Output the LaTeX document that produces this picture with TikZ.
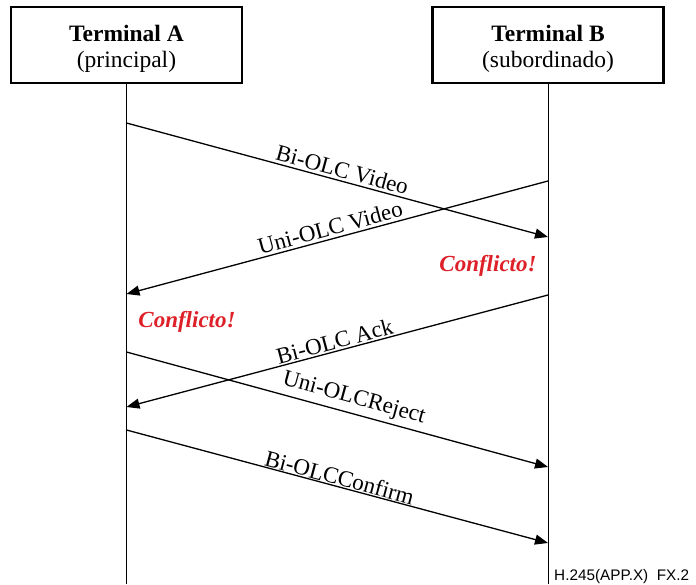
\documentclass[tikz,border=0pt]{standalone}
\usepackage{fontspec}
\setmainfont{Liberation Serif}
\newfontfamily\footsans{Liberation Sans}
\usetikzlibrary{arrows.meta}
\definecolor{conflred}{RGB}{222,32,40}
\tikzset{
  term/.style={draw, line width=2.2pt, minimum width=231pt, minimum height=76pt, inner sep=0pt},
  termtext/.style={inner sep=0pt, font=\fontsize{23.5}{26}\selectfont},
  life/.style={line width=1pt},
  msg/.style={line width=1.3pt, -{Triangle[length=13pt,width=10pt]}},
  rmsg/.style={line width=1.3pt, {Triangle[length=13pt,width=10pt]}-},
  lab/.style={sloped, above, inner sep=2.5pt, font=\fontsize{23}{25}\selectfont},
  confl/.style={text=conflred, font=\fontsize{23}{25}\selectfont\bfseries\itshape, inner sep=0pt},
}
\begin{document}
\begin{tikzpicture}[x=1pt,y=-1pt]
\useasboundingbox (0,0) rectangle (696,585);
\node[term] (A) at (126.5,45) {};
\node[term] (B) at (548,45) {};
\node[termtext] (At) at (126.5,33) {\textbf{Terminal A}};
\node[termtext] (As) at (126.5,62) {(principal)};
\node[termtext] (Bt) at (548,33) {\textbf{Terminal B}};
\node[termtext] (Bs) at (548,62) {(subordinado)};
\coordinate (Aend) at (126.5,584);
\coordinate (Bend) at (548,584);
\draw[life] (A.south) -- (Aend);
\draw[life] (B.south) -- (Bend);
% message points
\coordinate (a1) at (126.5,123); \coordinate (b1) at (548,237);
\coordinate (b2) at (548,181);   \coordinate (a2) at (126.5,294);
\coordinate (b3) at (548,295);   \coordinate (a3) at (126.5,407);
\coordinate (a4) at (126.5,352); \coordinate (b4) at (548,467);
\coordinate (a5) at (126.5,430); \coordinate (b5) at (548,543);
\draw[msg] (a1) -- node[lab, pos=0.505] (l1) {Bi-OLC Video} (b1);
\draw[rmsg] (a2) -- node[lab, pos=0.49] (l2) {Uni-OLC Video} (b2);
\draw[rmsg] (a3) -- node[lab, pos=0.50, inner sep=1.5pt] (l3) {Bi-OLC Ack} (b3);
\draw[msg] (a4) -- node[lab, pos=0.53, inner sep=4pt] (l4) {Uni-OLCReject} (b4);
\draw[msg] (a5) -- node[lab, pos=0.50, inner sep=0.5pt] (l5) {Bi-OLCConfirm} (b5);
\node[confl] (cB) at (488,266) {Conflicto!};
\node[confl] (cA) at (187,322) {Conflicto!};
\node[anchor=west, inner sep=0pt, font=\footsans\fontsize{15.3}{17}\selectfont] (fn) at (554,577) {H.245(APP.X)\ \ FX.2};
\end{tikzpicture}
\end{document}
